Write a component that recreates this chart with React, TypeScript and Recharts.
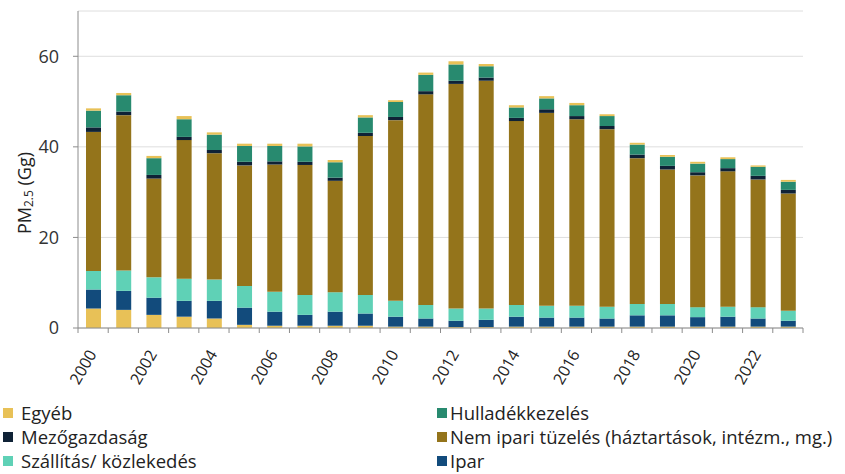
import React from "react";
import { BarChart, Bar, XAxis, YAxis, CartesianGrid } from "recharts";

const years = ["2000","2001","2002","2003","2004","2005","2006","2007","2008","2009","2010","2011","2012","2013","2014","2015","2016","2017","2018","2019","2020","2021","2022","2023"];
const egyeb = [4.3,4.0,2.9,2.5,2.1,0.7,0.5,0.5,0.5,0.5,0.3,0.3,0.2,0.2,0.3,0.3,0.3,0.3,0.3,0.3,0.3,0.3,0.3,0.3];
const ipar = [4.2,4.2,3.8,3.5,3.9,3.8,3.1,2.4,3.1,2.7,2.2,1.8,1.4,1.6,2.2,2.0,2.0,1.8,2.5,2.5,2.1,2.2,1.8,1.3];
const szallitas = [4.1,4.5,4.5,4.9,4.7,4.8,4.4,4.4,4.3,4.1,3.5,3.0,2.7,2.5,2.6,2.6,2.6,2.6,2.5,2.5,2.2,2.2,2.5,2.2];
const nemIpari = [30.7,34.3,21.8,30.6,27.9,26.6,28.1,28.7,24.6,35.1,39.9,46.5,49.6,50.3,40.6,42.6,41.2,39.2,32.2,29.7,29.1,29.9,28.2,25.9];
const mezogazdasag = [1.0,0.8,0.8,0.7,0.7,0.8,0.7,0.7,0.7,0.7,0.7,0.7,0.7,0.7,0.7,0.8,0.7,0.7,0.8,0.8,0.7,0.7,0.8,0.8];
const hulladek = [3.7,3.6,3.7,3.9,3.4,3.5,3.4,3.4,3.4,3.4,3.3,3.6,3.6,2.5,2.3,2.4,2.4,2.2,2.2,2.0,1.9,2.0,2.0,1.8];
const egyebFelso = [0.5,0.5,0.5,0.7,0.5,0.5,0.5,0.6,0.5,0.5,0.4,0.5,0.7,0.5,0.5,0.5,0.5,0.4,0.4,0.4,0.4,0.4,0.3,0.4];
const yTicks = [0, 20, 40, 60];

const C = {
  egyeb: "#E8C157",
  ipar: "#124B7C",
  szallitas: "#5FD1B6",
  nemIpari: "#94741B",
  mezo: "#0F2236",
  hull: "#288A6F",
};

const legendLeft = [
  { name: "Egyéb", color: C.egyeb },
  { name: "Mezőgazdaság", color: C.mezo },
  { name: "Szállítás/ közlekedés", color: C.szallitas },
];
const legendRight = [
  { name: "Hulladékkezelés", color: C.hull },
  { name: "Nem ipari tüzelés (háztartások, intézm., mg.)", color: C.nemIpari },
  { name: "Ipar", color: C.ipar },
];

const data = years.map((y, i) => ({
  year: y,
  egyeb: egyeb[i],
  ipar: ipar[i],
  szallitas: szallitas[i],
  nemIpari: nemIpari[i],
  mezo: mezogazdasag[i],
  hull: hulladek[i],
  egyebFelso: egyebFelso[i],
}));

const W = 845;
const H = 400;
const M = { top: 11, right: 42, bottom: 12, left: 0 };
const YW = 78;
const BAND = (W - M.left - M.right - YW) / years.length;
const FONT = "'Open Sans', sans-serif";

const XTick = (props: any) => {
  const { x, y, payload, index } = props;
  const half = BAND / 2;
  const label = Number(payload.value) % 2 === 0;
  const ax = x + 4;
  const ay = y + 26;
  return (
    <g>
      <line x1={x - half} x2={x - half} y1={y} y2={y + 5} stroke="#8c8c8c" />
      {index === years.length - 1 && (
        <line x1={x + half} x2={x + half} y1={y} y2={y + 5} stroke="#8c8c8c" />
      )}
      {label && (
        <text
          x={ax}
          y={ay}
          textAnchor="end"
          fontSize={16}
          fontFamily={FONT}
          fill="#222"
          transform={`rotate(-60, ${ax}, ${ay})`}
        >
          {payload.value}
        </text>
      )}
    </g>
  );
};

const YLabel = () => (
  <text
    x={24}
    y={193}
    textAnchor="middle"
    dominantBaseline="central"
    fontSize={18}
    fontFamily={FONT}
    fill="#222"
    transform="rotate(-90, 24, 193)"
  >
    PM
    <tspan dy={4} fontSize={12}>2.5</tspan>
    <tspan dy={-4}> (Gg)</tspan>
  </text>
);

const LegendCol = ({ items, left, gap }: any) => (
  <>
    {items.map((it: any, i: number) => (
      <div
        key={it.name}
        style={{
          position: "absolute",
          left,
          top: 402 + i * 24,
          height: 22,
          lineHeight: "22px",
          display: "flex",
          alignItems: "center",
          fontFamily: FONT,
          fontSize: 18.5,
          color: "#222",
          whiteSpace: "nowrap",
        }}
      >
        <span style={{ display: "inline-block", width: 10, height: 10, background: it.color, marginRight: gap }} />
        {it.name}
      </div>
    ))}
  </>
);

export default function App() {
  return (
    <div style={{ position: "absolute", left: 0, top: 0, width: W, height: 474, background: "#fff" }}>
      <BarChart width={W} height={H} data={data} margin={M} barSize={15}>
        <CartesianGrid vertical={false} stroke="#dedede" />
        <XAxis
          dataKey="year"
          interval={0}
          tickLine={false}
          tickSize={0}
          tickMargin={0}
          height={60}
          stroke="#8c8c8c"
          tick={<XTick />}
        />
        <YAxis
          width={YW}
          domain={[0, 70]}
          ticks={yTicks}
          tickSize={5}
          tickMargin={14}
          stroke="#8c8c8c"
          tick={{ fontSize: 18, fontFamily: FONT, fill: "#333" }}
          label={<YLabel />}
        />
        <Bar dataKey="egyeb" stackId="a" fill={C.egyeb} isAnimationActive={false} />
        <Bar dataKey="ipar" stackId="a" fill={C.ipar} isAnimationActive={false} />
        <Bar dataKey="szallitas" stackId="a" fill={C.szallitas} isAnimationActive={false} />
        <Bar dataKey="nemIpari" stackId="a" fill={C.nemIpari} isAnimationActive={false} />
        <Bar dataKey="mezo" stackId="a" fill={C.mezo} isAnimationActive={false} />
        <Bar dataKey="hull" stackId="a" fill={C.hull} isAnimationActive={false} />
        <Bar dataKey="egyebFelso" stackId="a" fill={C.egyeb} isAnimationActive={false} />
      </BarChart>
      <LegendCol items={legendLeft} left={3} gap={8} />
      <LegendCol items={legendRight} left={437} gap={3} />
    </div>
  );
}
